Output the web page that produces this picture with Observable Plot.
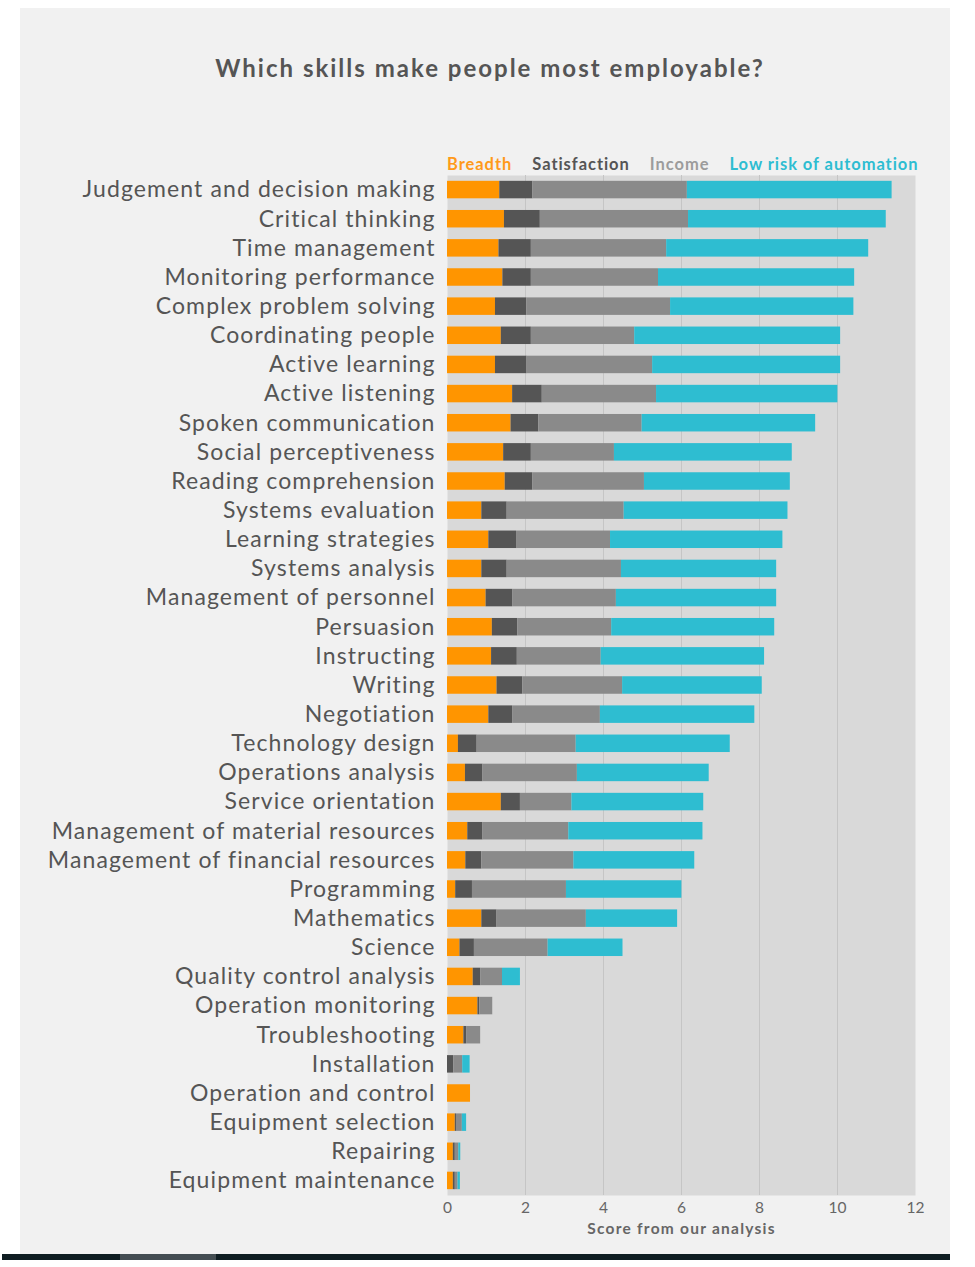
<!DOCTYPE html>
<html><head><meta charset="utf-8">
<script src="https://cdn.jsdelivr.net/npm/d3@7"></script>
<script src="https://cdn.jsdelivr.net/npm/@observablehq/plot@0.6"></script>
<style>
body{margin:0;background:#fff;width:975px;height:1267px;position:relative;overflow:hidden;font-family:Lato,"Open Sans",sans-serif}
#panel{position:absolute;left:20px;top:8px;width:930px;height:1246px;background:#f1f1f1}
#strip{position:absolute;left:2px;top:1254px;width:948px;height:6px;background:#0f1d22}
#strip2{position:absolute;left:120px;top:1254px;width:96px;height:6px;background:#434d52}
#title{position:absolute;left:0;width:980px;top:53px;text-align:center;font-size:24px;font-weight:bold;color:#555;letter-spacing:2px}
#legend{position:absolute;left:447px;top:154px;display:flex;gap:20px;font-size:16.5px;font-weight:bold;white-space:nowrap;letter-spacing:0.95px}
#chart{position:absolute;left:0;top:140px}
#chart g[aria-label="x-axis label"] text{font-weight:bold;letter-spacing:1.25px}
#chart g[aria-label="y-axis tick label"] text{letter-spacing:1.1px}
</style></head>
<body>
<div id="panel"></div>
<div id="strip"></div><div id="strip2"></div>
<div id="title">Which skills make people most employable?</div>
<div id="legend"></div>
<div id="chart"></div>
<script>
const skills = ["Judgement and decision making","Critical thinking","Time management","Monitoring performance","Complex problem solving","Coordinating people","Active learning","Active listening","Spoken communication","Social perceptiveness","Reading comprehension","Systems evaluation","Learning strategies","Systems analysis","Management of personnel","Persuasion","Instructing","Writing","Negotiation","Technology design","Operations analysis","Service orientation","Management of material resources","Management of financial resources","Programming","Mathematics","Science","Quality control analysis","Operation monitoring","Troubleshooting","Installation","Operation and control","Equipment selection","Repairing","Equipment maintenance"];
const breadth      = [1.34,1.46,1.32,1.42,1.23,1.38,1.23,1.67,1.63,1.44,1.48,0.88,1.06,0.88,0.99,1.15,1.13,1.27,1.06,0.28,0.46,1.38,0.52,0.47,0.21,0.88,0.32,0.66,0.78,0.42,0.00,0.59,0.20,0.15,0.15];
const satisfaction = [0.85,0.92,0.83,0.73,0.80,0.77,0.81,0.76,0.71,0.71,0.71,0.65,0.71,0.65,0.68,0.65,0.66,0.66,0.61,0.48,0.45,0.49,0.39,0.41,0.43,0.39,0.37,0.19,0.05,0.07,0.16,0.00,0.03,0.05,0.05];
const income       = [3.96,3.80,3.47,3.26,3.69,2.65,3.22,2.93,2.65,2.13,2.86,3.00,2.41,2.93,2.66,2.41,2.15,2.56,2.25,2.54,2.42,1.32,2.20,2.36,2.41,2.29,1.89,0.56,0.33,0.36,0.23,0.00,0.15,0.09,0.07];
const automation   = [5.25,5.07,5.18,5.03,4.70,5.28,4.82,4.65,4.45,4.56,3.74,4.20,4.42,3.98,4.11,4.18,4.19,3.58,3.96,3.95,3.38,3.38,3.44,3.10,2.96,2.34,1.92,0.46,0.00,0.00,0.19,0.00,0.11,0.05,0.06];
const metrics = ["Breadth","Satisfaction","Income","Low risk of automation"];
const colors = ["#ff9500","#555555","#8a8a8a","#2ebdd1"];
const legendColors = ["#ff9a1a","#555555","#9c9c9c","#2ebdd1"];
const xTicks = [0,2,4,6,8,10,12];

const series = [breadth, satisfaction, income, automation];
const data = [];
skills.forEach((s,i)=>metrics.forEach((m,j)=>data.push({skill:s, metric:m, value:series[j][i]})));

const leg = document.getElementById("legend");
metrics.forEach((m,j)=>{const sp=document.createElement("span");sp.textContent=m;sp.style.color=legendColors[j];leg.appendChild(sp);});

const chart = Plot.plot({
  width: 975, height: 1106,
  marginLeft: 447, marginRight: 60, marginTop: 35, marginBottom: 51,
  style: {fontFamily: "Lato, 'Open Sans', sans-serif", fontSize: "15px", color: "#555", background: "transparent", overflow: "visible"},
  x: {domain: [0,12]},
  y: {domain: skills, paddingInner: 0.4, paddingOuter: 0.2, round: false},
  color: {domain: metrics, range: colors},
  marks: [
    Plot.frame({fill: "#d9d9d9", stroke: null}),
    Plot.gridX([2,4,6,8,10], {stroke: "#c5c5c5", strokeOpacity: 1}),
    Plot.barX(data, Plot.stackX({y: "skill", x: "value", fill: "metric"})),
    Plot.axisY({tickSize: 0, tickPadding: 12, fontSize: 23, fill: "#555", label: null}),
    Plot.axisX({ticks: xTicks, tickSize: 0, tickPadding: 6, fontSize: 15.5, fill: "#666", label: "Score from our analysis", labelAnchor: "center", labelArrow: "none", labelOffset: 38})
  ]
});
document.getElementById("chart").appendChild(chart);
</script>
</body></html>
